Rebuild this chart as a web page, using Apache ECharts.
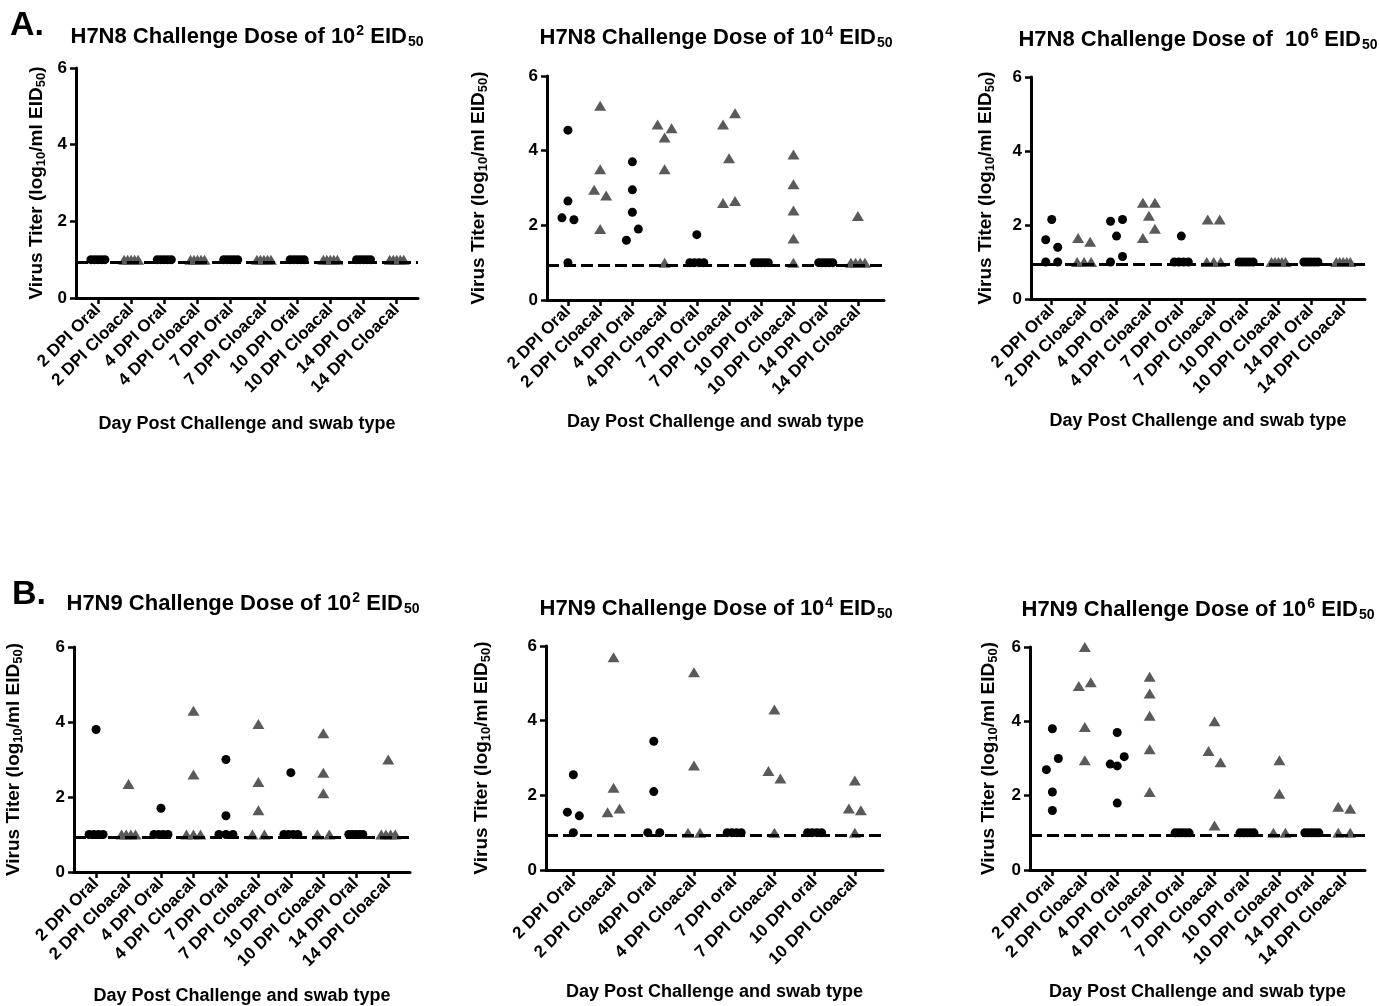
<!DOCTYPE html>
<html><head><meta charset="utf-8">
<script src="https://cdn.jsdelivr.net/npm/echarts@6/dist/echarts.min.js"></script>
<style>html,body{margin:0;padding:0;background:#fff}#c{width:1380px;height:1006px}</style>
</head><body><div id="c"></div>
<script>
// ---------- DATA ----------
const catsA  = ['2 DPI Oral','2 DPI Cloacal','4 DPI Oral','4 DPI Cloacal','7 DPI Oral','7 DPI Cloacal','10 DPI Oral','10 DPI Cloacal','14 DPI Oral','14 DPI Cloacal'];
const catsB2 = ['2 DPI Oral','2 DPI Cloacal','4DPI Oral','4 DPI Cloacal','7 DPI oral','7 DPI Cloacal','10 DPI oral','10 DPI Cloacal'];
const catsB3 = ['2 DPI Oral','2 DPI Cloacal','4 DPI Oral','4 DPI Cloacal','7 DPI Oral','7 DPI Cloacal','10 DPI oral','10 DPI Cloacal','14 DPI Oral','14 DPI Cloacal'];
const yTicks = [0, 2, 4, 6];
const detectionLimit = 0.94;

const titleA1 = 'H7N8 Challenge Dose of 10{sup|2} EID{sub|50}';
const titleA2 = 'H7N8 Challenge Dose of 10{sup|4} EID{sub|50}';
const titleA3 = 'H7N8 Challenge Dose of  10{sup|6} EID{sub|50}';
const titleB1 = 'H7N9 Challenge Dose of 10{sup|2} EID{sub|50}';
const titleB2 = 'H7N9 Challenge Dose of 10{sup|4} EID{sub|50}';
const titleB3 = 'H7N9 Challenge Dose of 10{sup|6} EID{sub|50}';
const yName = 'Virus Titer (log{s|10}/ml EID{s|50})';
const xName = 'Day Post Challenge and swab type';

const a1Values = [[1,1,1,1,1],[1,1,1,1,1],[1,1,1,1,1],[1,1,1,1,1],[1,1,1,1,1],[1,1,1,1,1],[1,1,1,1,1],[1,1,1,1,1],[1,1,1,1,1],[1,1,1,1,1]];
const a2Values = [
  [4.55,2.65,2.2,2.15,1.0],
  [5.2,3.5,2.95,2.8,1.9],
  [3.7,2.95,2.35,1.6,1.9],
  [4.7,4.35,4.6,3.5,1.0],
  [1.75,1,1,1,1],
  [4.7,5.0,3.8,2.6,2.65],
  [1,1,1,1,1],
  [3.9,3.1,2.4,1.65,1.0],
  [1,1,1,1,1],
  [2.25,1,1,1,1]
];
const a3Values = [
  [2.15,1.6,1.4,1.0,1.0],
  [1.65,1.55,1,1,1],
  [2.1,2.15,1.7,1.0,1.15],
  [2.6,2.6,2.25,1.65,1.9],
  [1.7,1,1,1,1],
  [2.15,2.15,1,1,1],
  [1,1,1,1,1],
  [1,1,1,1,1],
  [1,1,1,1,1],
  [1,1,1,1,1]
];
const b1Values = [
  [3.8,1,1,1,1],
  [2.35,1,1,1,1],
  [1.7,1,1,1,1],
  [4.3,2.6,1,1,1],
  [3.0,1.5,1,1,1],
  [3.95,2.4,1.65,1,1],
  [2.65,1,1,1,1],
  [3.7,2.65,2.1,1,1],
  [1,1,1,1,1],
  [3.0,1,1,1,1]
];
const b2Values = [
  [2.55,1.55,1.45,1.0],
  [5.7,2.2,1.55,1.65],
  [3.45,2.1,1.0,1.0],
  [5.3,2.8,1.0,1.0],
  [1,1,1,1],
  [4.3,2.65,2.45,1.0],
  [1,1,1,1],
  [2.4,1.65,1.6,1.0]
];
const b3Values = [
  [3.8,2.7,3.0,2.1,1.6],
  [6.0,4.95,5.05,3.85,2.95],
  [3.7,2.85,2.8,3.05,1.8],
  [5.2,4.75,4.15,3.25,2.1],
  [1,1,1,1,1],
  [4.0,3.2,2.9,1.2],
  [1,1,1,1,1],
  [2.95,2.05,1.0,1.0],
  [1,1,1,1,1],
  [1.7,1.65,1.0,1.0]
];

// ---------- LAYOUT ----------
const FONT = '"Liberation Sans", Arial, Helvetica, sans-serif';
const panels = [
  {cats: catsA,  values: a1Values, title: titleA1, grid:{left:76,  top:68,  width:342, height:230}, xMin:-0.66, xMax:9.64, tx:247,  ty:37,  gapY:28, gapX:117},
  {cats: catsA,  values: a2Values, title: titleA2, grid:{left:547, top:76,  width:337, height:224}, xMin:-0.65, xMax:9.81, tx:716,  ty:38,  gapY:57, gapX:113},
  {cats: catsA,  values: a3Values, title: titleA3, grid:{left:1031,top:77,  width:334, height:222}, xMin:-0.64, xMax:9.67, tx:1198, ty:40,  gapY:34, gapX:113},
  {cats: catsA,  values: b1Values, title: titleB1, grid:{left:74,  top:647, width:336, height:225}, xMin:-0.68, xMax:9.67, tx:243,  ty:604, gapY:49, gapX:115},
  {cats: catsB2, values: b2Values, title: titleB2, grid:{left:546, top:646, width:337, height:224}, xMin:-0.68, xMax:7.7,  tx:716,  ty:609, gapY:53, gapX:113},
  {cats: catsB3, values: b3Values, title: titleB3, grid:{left:1030,top:647, width:335, height:223}, xMin:-0.69, xMax:9.64, tx:1198, ty:610, gapY:30, gapX:113}
];

// horizontal spreading of overlapping points (scatter-dot style)
function spreadOffsets(vals, pxPerUnitX) {
  const n = vals.length, off = new Array(n).fill(0);
  const order = vals.map((v,i)=>i).sort((a,b)=>vals[a]-vals[b] || a-b);
  const clusters = []; let cur = [order[0]];
  for (let k = 1; k < n; k++) {
    if (vals[order[k]] - vals[order[k-1]] < 0.32) cur.push(order[k]);
    else { clusters.push(cur); cur = [order[k]]; }
  }
  clusters.push(cur);
  clusters.forEach(c => {
    c.sort((a,b)=>a-b);
    const m = c.length;
    if (m < 2) return;
    const step = m === 2 ? 12 : Math.min(7, 14/(m-1));
    c.forEach((idx, j) => { off[idx] = (j - (m-1)/2) * step / pxPerUnitX; });
  });
  return off;
}

const grids = [], xAxes = [], yAxes = [], series = [], graphics = [];
const rich = {
  t:   {fontFamily: FONT, fontWeight:'bold', fontSize:22, color:'#000'},
  sup: {fontFamily: FONT, fontWeight:'bold', fontSize:14, color:'#000', padding:[0,0,11,1]},
  sub: {fontFamily: FONT, fontWeight:'bold', fontSize:14, color:'#000', padding:[11,0,0,1]}
};

panels.forEach((p, gi) => {
  grids.push(p.grid);
  const idxs = p.cats.map((c,i)=>i);
  const pxPerUnitX = p.grid.width / (p.xMax - p.xMin);
  xAxes.push({
    gridIndex: gi, type:'value', min:p.xMin, max:p.xMax,
    axisLine:{show:true, onZero:false, lineStyle:{color:'#000', width:3}},
    axisTick:{show:true, customValues: idxs, length:6, lineStyle:{color:'#000', width:2.5}},
    axisLabel:{show:true, customValues: idxs, formatter: v => p.cats[Math.round(v)], rotate:45,
      fontFamily:FONT, fontSize:17, fontWeight:'bold', color:'#000', margin:9},
    splitLine:{show:false},
    name: xName, nameLocation:'middle', nameGap:p.gapX,
    nameTextStyle:{fontFamily:FONT, fontSize:18, fontWeight:'bold', color:'#000'}
  });
  yAxes.push({
    gridIndex: gi, type:'value', min:yTicks[0], max:yTicks[yTicks.length-1], interval:yTicks[1]-yTicks[0],
    axisLine:{show:true, onZero:false, lineStyle:{color:'#000', width:3}},
    axisTick:{show:true, length:6, lineStyle:{color:'#000', width:2.5}},
    axisLabel:{fontFamily:FONT, fontSize:17, fontWeight:'bold', color:'#000', margin:9},
    splitLine:{show:false},
    name: yName, nameLocation:'middle', nameRotate:90, nameGap:p.gapY,
    nameTextStyle:{fontFamily:FONT, fontSize:19, fontWeight:'bold', color:'#000',
      rich:{s:{fontFamily:FONT, fontSize:13, fontWeight:'bold', color:'#000', padding:[9,0,0,0]}}}
  });
  const oral = [], cloacal = [];
  p.values.forEach((vals, ci) => {
    const off = spreadOffsets(vals, pxPerUnitX);
    const isOral = /oral/i.test(p.cats[ci]);
    vals.forEach((v, k) => (isOral ? oral : cloacal).push([ci + off[k], v]));
  });
  series.push({
    type:'line', xAxisIndex:gi, yAxisIndex:gi, data:[], z:1, silent:true,
    markLine:{silent:true, symbol:'none', animation:false, label:{show:false},
      lineStyle:{type:[12,5], width:3, color:'#000'}, data:[{yAxis: detectionLimit}]}
  });
  series.push({type:'scatter', name:'Cloacal', xAxisIndex:gi, yAxisIndex:gi, z:3,
    symbol:'triangle', symbolSize:[12,10], itemStyle:{color:'#5a5a5a', opacity:1}, data:cloacal});
  series.push({type:'scatter', name:'Oral', xAxisIndex:gi, yAxisIndex:gi, z:4,
    symbol:'circle', symbolSize:9, itemStyle:{color:'#000', opacity:1}, data:oral});
  graphics.push({type:'text', x:p.tx, y:p.ty, style:{text:'{t|' + p.title.replace(/\{(sup|sub)\|([^}]*)\}/g, '}{$1|$2}{t|') + '}',
    rich: rich, align:'center', verticalAlign:'middle'}});
});

graphics.push({type:'text', x:10, y:9, style:{text:'A.', fontFamily:FONT, fontWeight:'bold', fontSize:34, fill:'#000'}});
graphics.push({type:'text', x:12, y:578, style:{text:'B.', fontFamily:FONT, fontWeight:'bold', fontSize:34, fill:'#000'}});

const chart = echarts.init(document.getElementById('c'), null, {renderer:'canvas'});
chart.setOption({
  animation:false,
  backgroundColor:'#fff',
  textStyle:{fontFamily:FONT},
  grid: grids, xAxis: xAxes, yAxis: yAxes, series: series, graphic: graphics
});
</script>
</body></html>
